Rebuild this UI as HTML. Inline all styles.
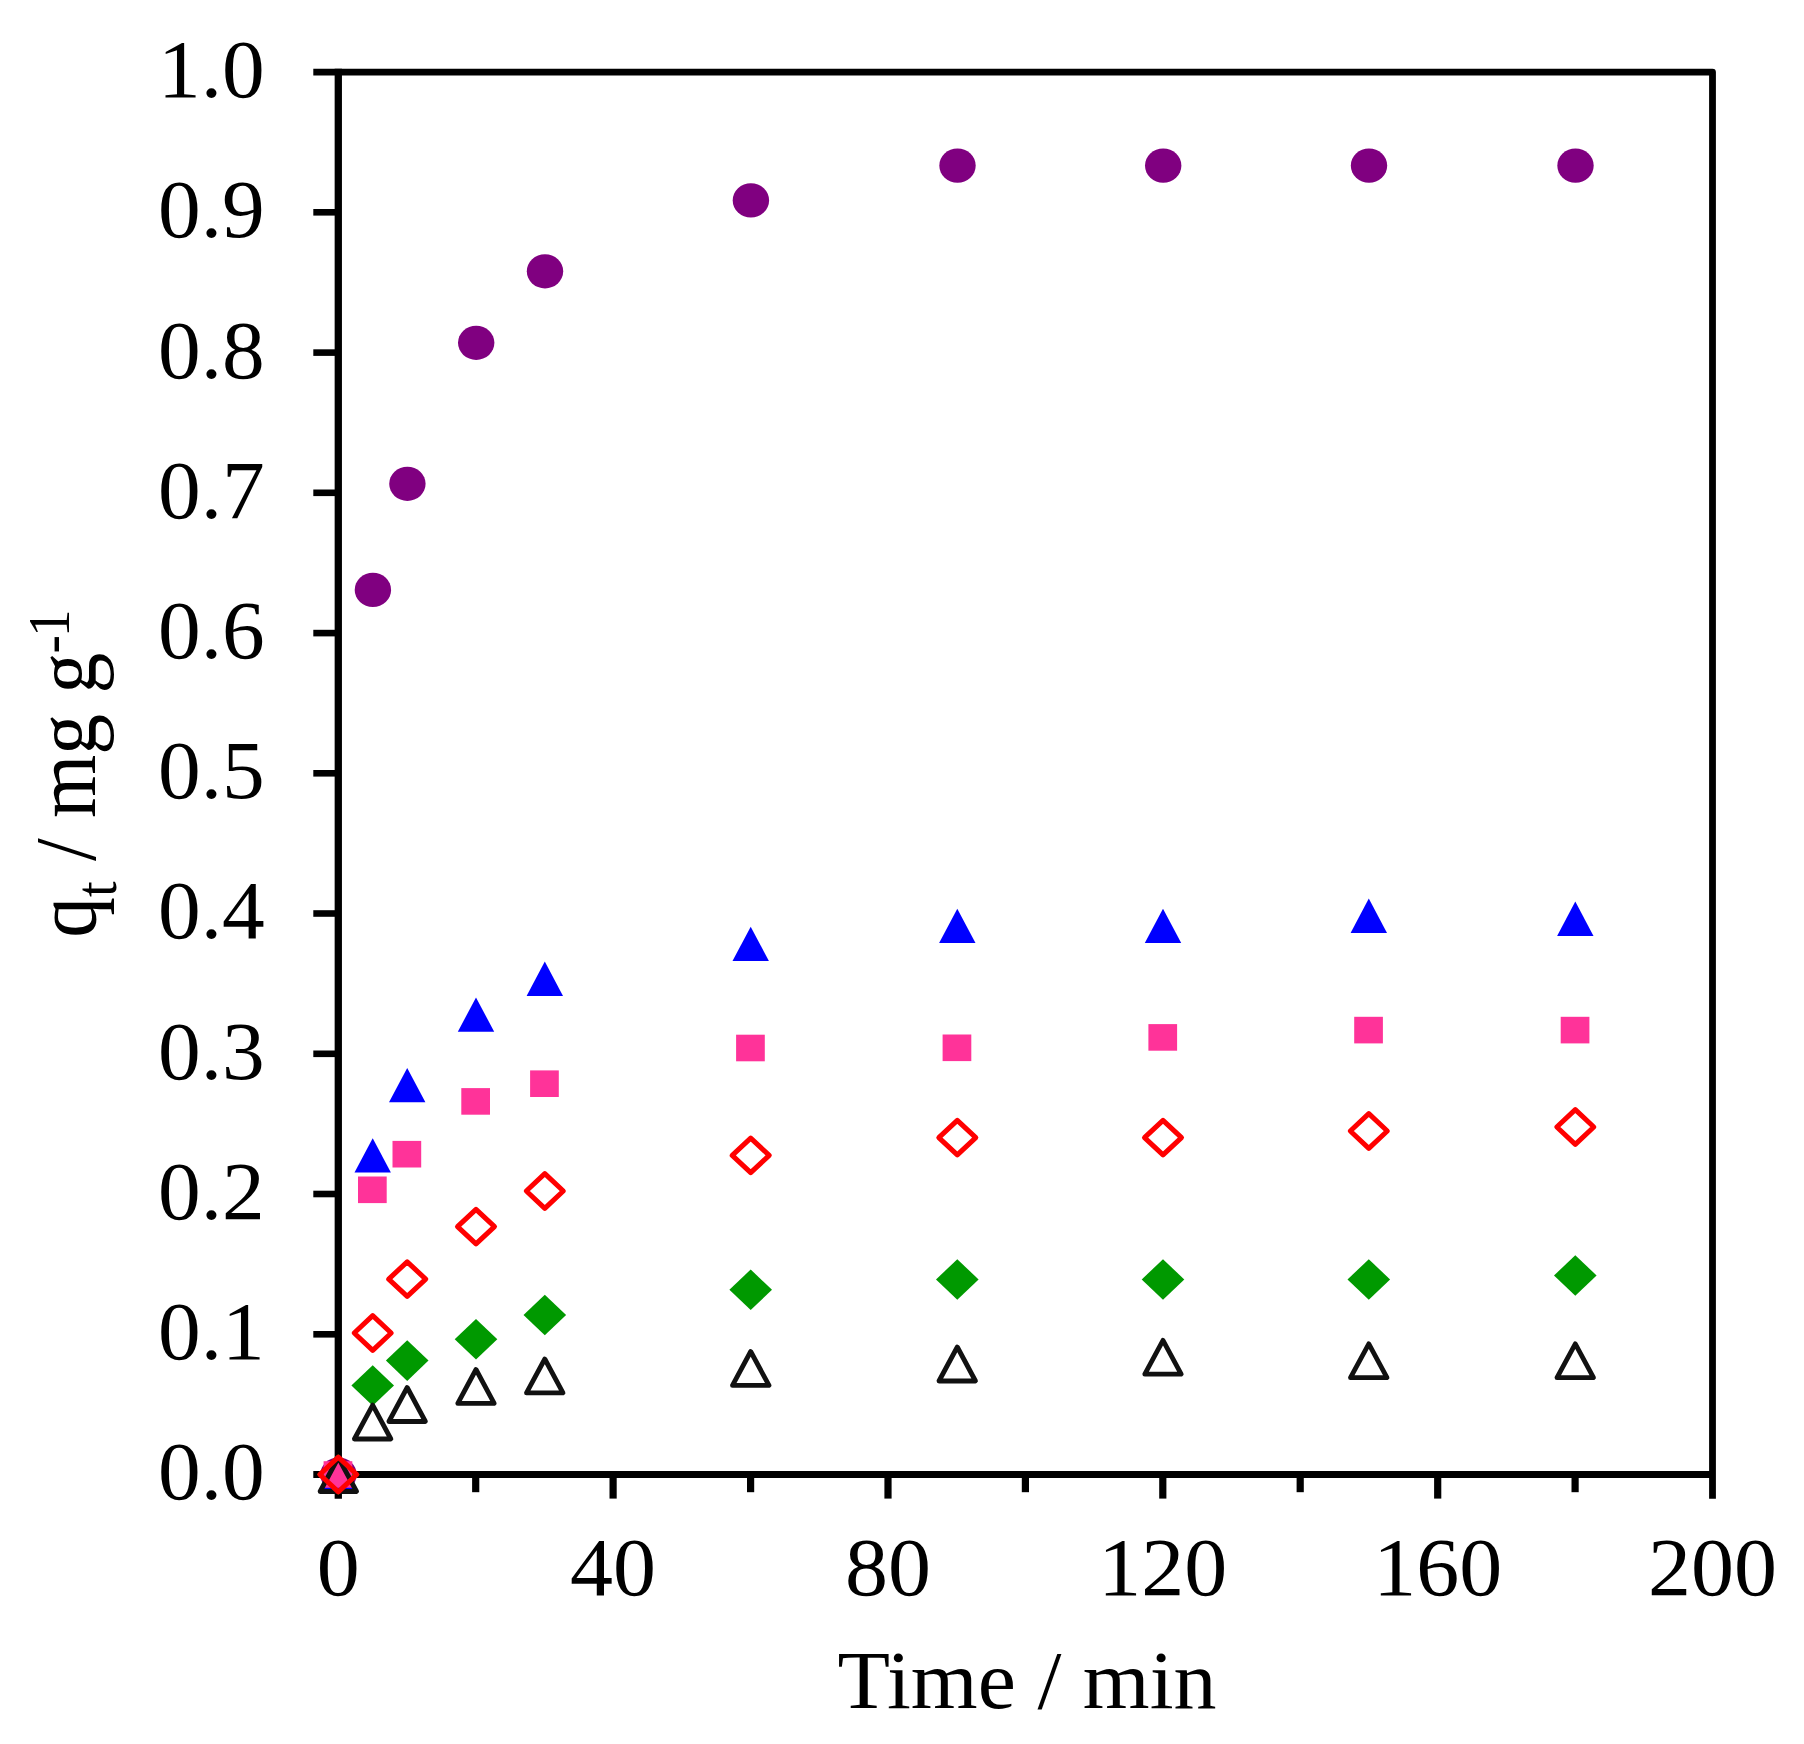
<!DOCTYPE html>
<html lang="en">
<head>
<meta charset="utf-8">
<title>Adsorption kinetics: q_t versus time</title>
<style>
html,body{margin:0;padding:0;background:#fff;}
body{width:1804px;height:1744px;overflow:hidden;}
svg{display:block;}
text{font-family:"Liberation Serif", "Times New Roman", Times, serif;font-size:81.5px;fill:#000;}
</style>
</head>
<body>
<svg width="1804" height="1744" viewBox="0 0 1804 1744">
<rect x="0" y="0" width="1804" height="1744" fill="#ffffff"/>
<g id="axes" fill="none" stroke="#000" stroke-linecap="butt">
<polyline points="313.3,72.1 1712.5,72.1 1712.5,1498.8" stroke-width="6.8" stroke-linejoin="round"/>
<line x1="338.3" y1="68.7" x2="338.3" y2="1498.8" stroke-width="7.3"/>
<line x1="313.3" y1="1474.5" x2="1712.5" y2="1474.5" stroke-width="6.8"/>
<line x1="313.3" y1="1334.3" x2="338.3" y2="1334.3" stroke-width="6.6"/>
<line x1="313.3" y1="1194.0" x2="338.3" y2="1194.0" stroke-width="6.6"/>
<line x1="313.3" y1="1053.8" x2="338.3" y2="1053.8" stroke-width="6.6"/>
<line x1="313.3" y1="913.5" x2="338.3" y2="913.5" stroke-width="6.6"/>
<line x1="313.3" y1="773.3" x2="338.3" y2="773.3" stroke-width="6.6"/>
<line x1="313.3" y1="633.1" x2="338.3" y2="633.1" stroke-width="6.6"/>
<line x1="313.3" y1="492.8" x2="338.3" y2="492.8" stroke-width="6.6"/>
<line x1="313.3" y1="352.6" x2="338.3" y2="352.6" stroke-width="6.6"/>
<line x1="313.3" y1="212.3" x2="338.3" y2="212.3" stroke-width="6.6"/>
<line x1="475.7" y1="1474.5" x2="475.7" y2="1492.2" stroke-width="7.2"/>
<line x1="613.1" y1="1474.5" x2="613.1" y2="1498.6" stroke-width="7.2"/>
<line x1="750.6" y1="1474.5" x2="750.6" y2="1492.2" stroke-width="7.2"/>
<line x1="888.0" y1="1474.5" x2="888.0" y2="1498.6" stroke-width="7.2"/>
<line x1="1025.4" y1="1474.5" x2="1025.4" y2="1492.2" stroke-width="7.2"/>
<line x1="1162.8" y1="1474.5" x2="1162.8" y2="1498.6" stroke-width="7.2"/>
<line x1="1300.2" y1="1474.5" x2="1300.2" y2="1492.2" stroke-width="7.2"/>
<line x1="1437.7" y1="1474.5" x2="1437.7" y2="1498.6" stroke-width="7.2"/>
<line x1="1575.1" y1="1474.5" x2="1575.1" y2="1492.2" stroke-width="7.2"/>
</g>
<g id="series">
<g>
<ellipse cx="338.5" cy="1474.5" rx="18.2" ry="17.1" fill="#800080"/>
<ellipse cx="372.9" cy="589.9" rx="18.2" ry="17.1" fill="#800080"/>
<ellipse cx="407.4" cy="483.8" rx="18.2" ry="17.1" fill="#800080"/>
<ellipse cx="476.2" cy="342.8" rx="18.2" ry="17.1" fill="#800080"/>
<ellipse cx="545.0" cy="271.3" rx="18.2" ry="17.1" fill="#800080"/>
<ellipse cx="750.9" cy="200.4" rx="18.2" ry="17.1" fill="#800080"/>
<ellipse cx="957.5" cy="165.6" rx="18.2" ry="17.1" fill="#800080"/>
<ellipse cx="1163.2" cy="165.6" rx="18.2" ry="17.1" fill="#800080"/>
<ellipse cx="1369.0" cy="165.6" rx="18.2" ry="17.1" fill="#800080"/>
<ellipse cx="1575.5" cy="165.6" rx="18.2" ry="17.1" fill="#800080"/>
</g>
<g>
<polygon points="338.3,1454.2 359.6,1474.5 338.3,1494.8 317.0,1474.5" fill="#009900"/>
<polygon points="372.7,1365.2 394.0,1385.5 372.7,1405.8 351.4,1385.5" fill="#009900"/>
<polygon points="407.2,1340.2 428.5,1360.6 407.2,1380.9 385.9,1360.6" fill="#009900"/>
<polygon points="476.0,1319.0 497.3,1339.3 476.0,1359.6 454.7,1339.3" fill="#009900"/>
<polygon points="544.8,1294.7 566.1,1315.0 544.8,1335.3 523.5,1315.0" fill="#009900"/>
<polygon points="750.7,1269.5 772.0,1289.8 750.7,1310.1 729.4,1289.8" fill="#009900"/>
<polygon points="957.3,1259.2 978.6,1279.5 957.3,1299.8 936.0,1279.5" fill="#009900"/>
<polygon points="1163.0,1259.2 1184.3,1279.5 1163.0,1299.8 1141.7,1279.5" fill="#009900"/>
<polygon points="1368.8,1259.2 1390.1,1279.5 1368.8,1299.8 1347.5,1279.5" fill="#009900"/>
<polygon points="1575.3,1255.2 1596.6,1275.5 1575.3,1295.8 1554.0,1275.5" fill="#009900"/>
</g>
<g>
<polygon points="338.3,1457.3 356.5,1491.7 320.1,1491.7" fill="#0000ff"/>
<polygon points="372.7,1138.2 390.9,1172.6 354.5,1172.6" fill="#0000ff"/>
<polygon points="407.2,1067.9 425.4,1102.2 389.0,1102.2" fill="#0000ff"/>
<polygon points="476.0,997.5 494.2,1031.8 457.8,1031.8" fill="#0000ff"/>
<polygon points="544.8,961.6 563.0,995.9 526.6,995.9" fill="#0000ff"/>
<polygon points="750.7,926.8 768.9,961.0 732.5,961.0" fill="#0000ff"/>
<polygon points="957.3,908.8 975.5,943.0 939.1,943.0" fill="#0000ff"/>
<polygon points="1163.0,908.8 1181.2,943.0 1144.8,943.0" fill="#0000ff"/>
<polygon points="1368.8,898.6 1387.0,932.9 1350.6,932.9" fill="#0000ff"/>
<polygon points="1575.3,901.6 1593.5,935.9 1557.1,935.9" fill="#0000ff"/>
</g>
<g>
<rect x="323.6" y="1461.2" width="28.7" height="26.6" fill="#ff3399"/>
<rect x="358.0" y="1176.5" width="28.7" height="26.6" fill="#ff3399"/>
<rect x="392.5" y="1140.9" width="28.7" height="26.6" fill="#ff3399"/>
<rect x="461.3" y="1088.1" width="28.7" height="26.6" fill="#ff3399"/>
<rect x="530.1" y="1070.4" width="28.7" height="26.6" fill="#ff3399"/>
<rect x="736.1" y="1034.7" width="28.7" height="26.6" fill="#ff3399"/>
<rect x="942.6" y="1034.5" width="28.7" height="26.6" fill="#ff3399"/>
<rect x="1148.4" y="1024.1" width="28.7" height="26.6" fill="#ff3399"/>
<rect x="1354.2" y="1016.8" width="28.7" height="26.6" fill="#ff3399"/>
<rect x="1560.7" y="1016.8" width="28.7" height="26.6" fill="#ff3399"/>
</g>
<g>
<polygon points="338.3,1457.5 356.6,1491.5 320.1,1491.5" fill="none" stroke="#111111" stroke-width="4.8" stroke-linejoin="round"/>
<polygon points="372.7,1405.1 390.9,1439.0 354.4,1439.0" fill="none" stroke="#111111" stroke-width="4.8" stroke-linejoin="round"/>
<polygon points="407.2,1387.5 425.4,1421.5 388.9,1421.5" fill="none" stroke="#111111" stroke-width="4.8" stroke-linejoin="round"/>
<polygon points="476.0,1369.5 494.2,1403.4 457.8,1403.4" fill="none" stroke="#111111" stroke-width="4.8" stroke-linejoin="round"/>
<polygon points="544.8,1359.0 563.0,1392.9 526.5,1392.9" fill="none" stroke="#111111" stroke-width="4.8" stroke-linejoin="round"/>
<polygon points="750.7,1351.5 769.0,1385.4 732.5,1385.4" fill="none" stroke="#111111" stroke-width="4.8" stroke-linejoin="round"/>
<polygon points="957.3,1347.0 975.5,1381.0 939.0,1381.0" fill="none" stroke="#111111" stroke-width="4.8" stroke-linejoin="round"/>
<polygon points="1163.0,1340.3 1181.2,1374.2 1144.8,1374.2" fill="none" stroke="#111111" stroke-width="4.8" stroke-linejoin="round"/>
<polygon points="1368.8,1343.8 1387.0,1377.7 1350.5,1377.7" fill="none" stroke="#111111" stroke-width="4.8" stroke-linejoin="round"/>
<polygon points="1575.3,1343.8 1593.5,1377.7 1557.0,1377.7" fill="none" stroke="#111111" stroke-width="4.8" stroke-linejoin="round"/>
</g>
<g>
<polygon points="338.3,1457.2 356.8,1474.5 338.3,1491.8 319.8,1474.5" fill="none" stroke="#ff0000" stroke-width="5.0" stroke-linejoin="round"/>
<polygon points="372.7,1315.7 391.2,1333.0 372.7,1350.3 354.2,1333.0" fill="none" stroke="#ff0000" stroke-width="5.0" stroke-linejoin="round"/>
<polygon points="407.2,1261.8 425.7,1279.1 407.2,1296.4 388.7,1279.1" fill="none" stroke="#ff0000" stroke-width="5.0" stroke-linejoin="round"/>
<polygon points="476.0,1209.3 494.5,1226.6 476.0,1243.9 457.5,1226.6" fill="none" stroke="#ff0000" stroke-width="5.0" stroke-linejoin="round"/>
<polygon points="544.8,1173.7 563.3,1191.0 544.8,1208.3 526.3,1191.0" fill="none" stroke="#ff0000" stroke-width="5.0" stroke-linejoin="round"/>
<polygon points="750.7,1138.1 769.2,1155.4 750.7,1172.7 732.2,1155.4" fill="none" stroke="#ff0000" stroke-width="5.0" stroke-linejoin="round"/>
<polygon points="957.3,1120.3 975.8,1137.6 957.3,1154.9 938.8,1137.6" fill="none" stroke="#ff0000" stroke-width="5.0" stroke-linejoin="round"/>
<polygon points="1163.0,1120.3 1181.5,1137.6 1163.0,1154.9 1144.5,1137.6" fill="none" stroke="#ff0000" stroke-width="5.0" stroke-linejoin="round"/>
<polygon points="1368.8,1113.7 1387.3,1131.0 1368.8,1148.3 1350.3,1131.0" fill="none" stroke="#ff0000" stroke-width="5.0" stroke-linejoin="round"/>
<polygon points="1575.3,1109.7 1593.8,1127.0 1575.3,1144.3 1556.8,1127.0" fill="none" stroke="#ff0000" stroke-width="5.0" stroke-linejoin="round"/>
</g>
</g>
<g id="ylabels" text-anchor="end">
<text transform="translate(264.8,1499.4) scale(1.048,1)">0.0</text>
<text transform="translate(264.8,1359.2) scale(1.048,1)">0.1</text>
<text transform="translate(264.8,1218.9) scale(1.048,1)">0.2</text>
<text transform="translate(264.8,1078.7) scale(1.048,1)">0.3</text>
<text transform="translate(264.8,938.4) scale(1.048,1)">0.4</text>
<text transform="translate(264.8,798.2) scale(1.048,1)">0.5</text>
<text transform="translate(264.8,658.0) scale(1.048,1)">0.6</text>
<text transform="translate(264.8,517.7) scale(1.048,1)">0.7</text>
<text transform="translate(264.8,377.5) scale(1.048,1)">0.8</text>
<text transform="translate(264.8,237.2) scale(1.048,1)">0.9</text>
<text transform="translate(264.8,97.0) scale(1.048,1)">1.0</text>
</g>
<g id="xlabels" text-anchor="middle">
<text transform="translate(338.3,1594.5) scale(1.055,1)">0</text>
<text transform="translate(613.1,1594.5) scale(1.055,1)">40</text>
<text transform="translate(888.0,1594.5) scale(1.055,1)">80</text>
<text transform="translate(1162.8,1594.5) scale(1.055,1)">120</text>
<text transform="translate(1437.7,1594.5) scale(1.055,1)">160</text>
<text transform="translate(1712.5,1594.5) scale(1.055,1)">200</text>
</g>
<text text-anchor="middle" transform="translate(1027,1708) scale(1.055,1)">Time / min</text>
<text text-anchor="middle" transform="translate(94.6,773.6) scale(1.055,1) rotate(-90)">q<tspan font-size="56.2px" dy="20">t</tspan><tspan dy="-20"> / mg g</tspan><tspan font-size="55.4px" dy="-22.7" dx="-0.8">-</tspan><tspan font-size="55.4px" dy="-1.3" dx="-2">1</tspan></text>
</svg>
</body>
</html>
